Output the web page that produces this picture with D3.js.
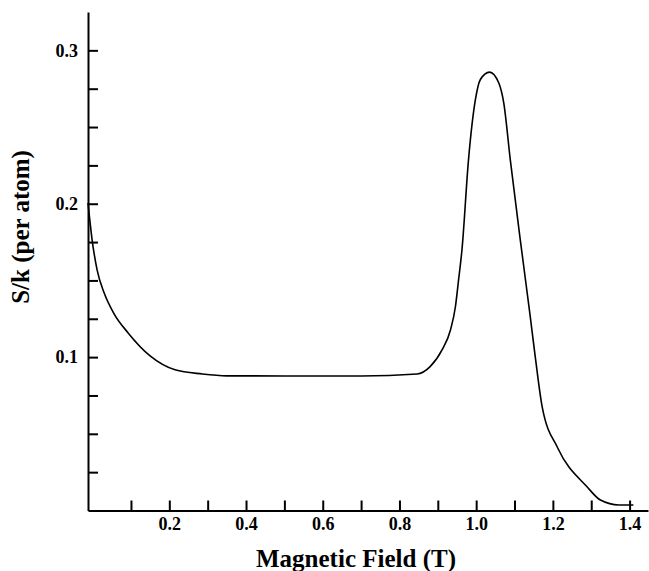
<!DOCTYPE html>
<html>
<head>
<meta charset="utf-8">
<script src="https://cdn.jsdelivr.net/npm/d3@7"></script>
<style>
  body { margin: 0; background: #fff; }
  svg { display: block; }
</style>
</head>
<body>
<svg id="chart" width="649" height="571"></svg>
<script>
// field values (T) and entropy per atom
var fieldT = [-0.012, -0.0013, 0.0117, 0.03, 0.056, 0.0926, 0.15, 0.215, 0.286, 0.35, 0.5, 0.7,
  0.846, 0.88, 0.911, 0.933, 0.946, 0.954, 0.963, 0.98, 0.998, 1.011, 1.035, 1.059,
  1.072, 1.089, 1.115, 1.141, 1.154, 1.172, 1.213, 1.289, 1.324, 1.372, 1.41];
var entropy = [0.2006, 0.1765, 0.1569, 0.1419, 0.1282, 0.1158, 0.1008, 0.0917, 0.089, 0.0878, 0.0877, 0.0877,
  0.089, 0.0938, 0.1047, 0.1177, 0.133, 0.150, 0.170, 0.2286, 0.2678, 0.281, 0.2858, 0.2787,
  0.2656, 0.2286, 0.1765, 0.1264, 0.1003, 0.0677, 0.0406, 0.0155, 0.0068, 0.0036, 0.0036];

var xTicks = [0.1, 0.2, 0.3, 0.4, 0.5, 0.6, 0.7, 0.8, 0.9, 1.0, 1.1, 1.2, 1.3, 1.4];
var xLabeled = [0.2, 0.4, 0.6, 0.8, 1.0, 1.2, 1.4];
var yTicks = [0.025, 0.05, 0.075, 0.1, 0.125, 0.15, 0.175, 0.2, 0.225, 0.25, 0.275, 0.3];
var yLabeled = [0.1, 0.2, 0.3];

var svg = d3.select("#chart");
var font = "'Liberation Serif', 'Times New Roman', serif";

var x = d3.scaleLinear().domain([-0.012, 1.448]).range([88, 648]);
var y = d3.scaleLinear().domain([0, 0.325]).range([510.5, 12]);

var isLabel = (list, v) => list.some((t) => Math.abs(t - v) < 1e-9);

// x axis, ticks pointing up into the plot
var xAxis = svg
  .append("g")
  .attr("transform", `translate(0,${y(0)})`)
  .call(
    d3.axisBottom(x)
      .tickValues(xTicks)
      .tickSizeInner(-10)
      .tickSizeOuter(0)
      .tickPadding(7)
      .tickFormat((d) => (isLabel(xLabeled, d) ? d3.format(".1f")(d) : ""))
  );

// y axis, ticks pointing right
var yAxis = svg
  .append("g")
  .attr("transform", `translate(${x(-0.012)},0)`)
  .call(
    d3.axisLeft(y)
      .tickValues(yTicks)
      .tickSizeInner(-10)
      .tickSizeOuter(0)
      .tickPadding(10)
      .tickFormat((d) => (isLabel(yLabeled, d) ? d3.format(".1f")(d) : ""))
  );

[xAxis, yAxis].forEach((g) => {
  g.select(".domain").attr("stroke", "#000").attr("stroke-width", 2);
  g.selectAll(".tick line").attr("stroke", "#000").attr("stroke-width", 2);
  g.selectAll(".tick text")
    .attr("fill", "#000")
    .style("font-family", font)
    .style("font-weight", "bold")
    .style("font-size", "18px");
});

// curve
var line = d3
  .line()
  .x((d, i) => x(fieldT[i]))
  .y((d) => y(d))
  .curve(d3.curveMonotoneX);

svg
  .append("path")
  .datum(entropy)
  .attr("d", line)
  .attr("fill", "none")
  .attr("stroke", "#000")
  .attr("stroke-width", 1.6);

// axis titles
svg
  .append("text")
  .attr("x", 356)
  .attr("y", 567)
  .attr("text-anchor", "middle")
  .style("font-family", font)
  .style("font-weight", "bold")
  .style("font-size", "25px")
  .text("Magnetic Field (T)");

svg
  .append("text")
  .attr("transform", "translate(29,227) rotate(-90)")
  .attr("text-anchor", "middle")
  .style("font-family", font)
  .style("font-weight", "bold")
  .style("font-size", "25px")
  .text("S/k (per atom)");
</script>
</body>
</html>
